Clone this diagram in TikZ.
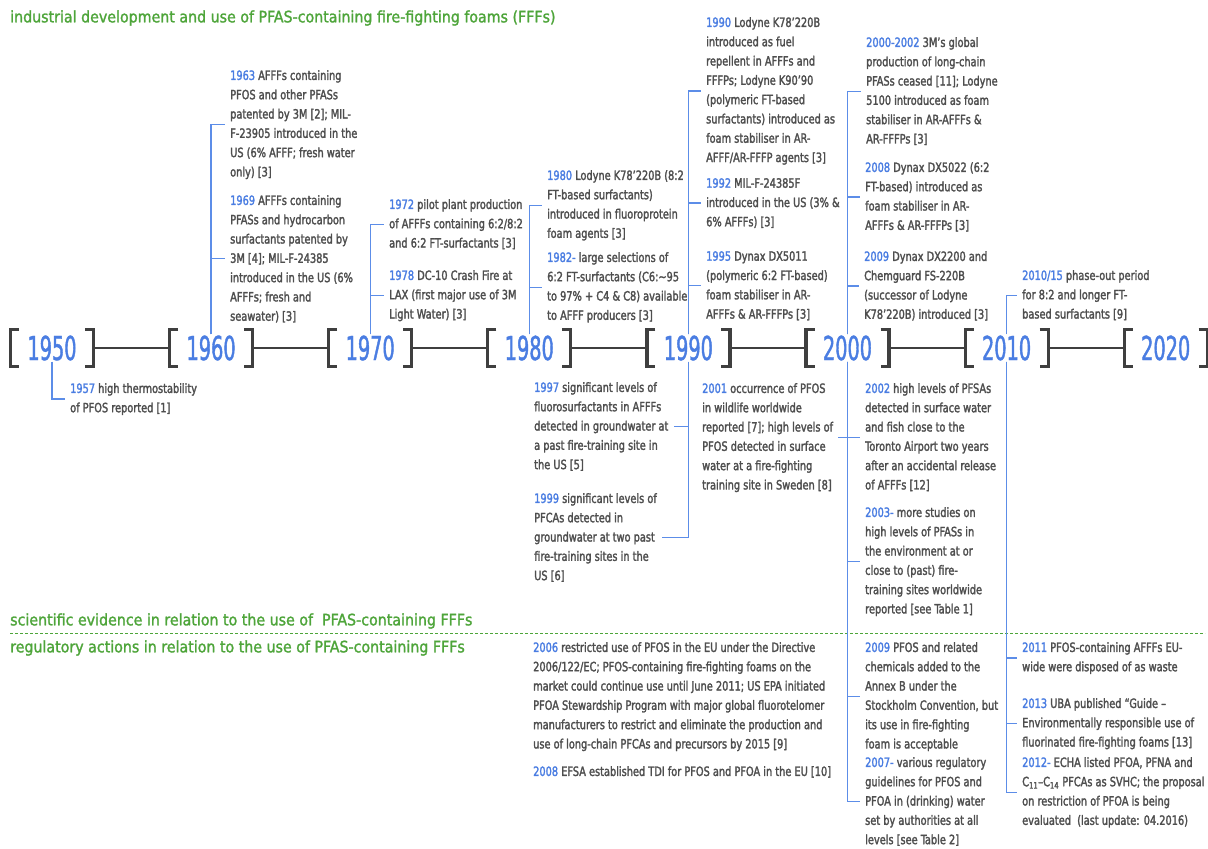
\documentclass[tikz,border=0pt]{standalone}
\usepackage{fontspec}
\setmainfont{DejaVu Sans Condensed}[FakeStretch=0.85,FakeBold=2]
\newfontfamily\headfont{DejaVu Sans Condensed}[FakeBold=1.5]
\newfontfamily\decadefont{DejaVu Sans Condensed}[FakeStretch=0.65,FakeBold=1.2]
\usetikzlibrary{calc}
\definecolor{yrblue}{HTML}{4A7DE2}
\definecolor{lnblue}{HTML}{5C8DE8}
\definecolor{txtgray}{HTML}{4E4E4E}
\definecolor{brkgray}{HTML}{3F3F3F}
\definecolor{secgreen}{HTML}{4EA53A}
\newcommand\evyear[1]{\textcolor{yrblue}{#1}}

\begin{document}
\begin{tikzpicture}[x=1pt,y=-1pt,
  evt/.style={anchor=north west,align=left,inner xsep=5pt,inner ysep=0pt,text=txtgray,font=\fontsize{12.8}{19.3}\selectfont},
  decade/.style={inner sep=1pt,text=yrblue,font=\decadefont\fontsize{33}{33}\selectfont},
  brk/.style={draw=brkgray,line width=3.2pt},
  axis/.style={draw=brkgray,line width=2.4pt},
  link/.style={draw=lnblue,line width=1.3pt},
  head/.style={anchor=west,inner sep=0pt,text=secgreen,font=\headfont\fontsize{15.8}{18}\selectfont}]
\def\gap{159.1}
\fill[white] (0,0) rectangle (1208,849);
\useasboundingbox (0,0) rectangle (1208,849);

% decades
\foreach \d [count=\i from 0] in {1950,1960,...,2020} {
  \node[decade] (d\d) at ({52+\gap*\i},348) {\d};
  \draw[brk] ($(d\d)+(-33,-18.5)$) -| ($(d\d)+(-41.5,18.5)$) -- ++(8.5,0);
  \draw[brk] ($(d\d)+(33,-18.5)$) -| ($(d\d)+(41.5,18.5)$) -- ++(-8.5,0);
  \coordinate (l\d) at ($(d\d)+(-41.5,0)$);
  \coordinate (r\d) at ($(d\d)+(41.5,0)$);
}
\foreach \a/\b in {1950/1960,1960/1970,1970/1980,1980/1990,1990/2000,2000/2010,2010/2020}
  \draw[axis] (r\a) -- (l\b);

% headings
\node[head] (tind) at (10,18) {industrial development and use of PFAS-containing fire-fighting foams (FFFs)};
\node[head] (tsci) at (10,621) {scientific evidence in relation to the use of \ PFAS-containing FFFs};
\draw[secgreen,dashed,line width=0.9pt,dash pattern=on 3pt off 2pt] (10,633) -- (1205,633);
\node[head] (treg) at (10,648) {regulatory actions in relation to the use of PFAS-containing FFFs};

% industrial development
\node[evt] (e1963) at (225,70) {\evyear{1963} AFFFs containing\\PFOS and other PFASs\\patented by 3M [2]; MIL-\\F-23905 introduced in the\\US (6\% AFFF; fresh water\\only) [3]};
\node[evt] (e1969) at (225,195) {\evyear{1969} AFFFs containing\\PFASs and hydrocarbon\\surfactants patented by\\3M [4]; MIL-F-24385\\introduced in the US (6\%\\AFFFs; fresh and\\seawater) [3]};
\node[evt] (e1972) at (384,199) {\evyear{1972} pilot plant production\\of AFFFs containing 6:2/8:2\\and 6:2 FT-surfactants [3]};
\node[evt] (e1978) at (384,270) {\evyear{1978} DC-10 Crash Fire at\\LAX (first major use of 3M\\Light Water) [3]};
\node[evt] (e1980) at (542,170) {\evyear{1980} Lodyne K78’220B (8:2\\FT-based surfactants)\\introduced in fluoroprotein\\foam agents [3]};
\node[evt] (e1982) at (542,252) {\evyear{1982-} large selections of\\6:2 FT-surfactants (C6:\textasciitilde95\\to 97\% + C4 \& C8) available\\to AFFF producers [3]};
\node[evt] (e1990) at (701,17) {\evyear{1990} Lodyne K78’220B\\introduced as fuel\\repellent in AFFFs and\\FFFPs; Lodyne K90’90\\(polymeric FT-based\\surfactants) introduced as\\foam stabiliser in AR-\\AFFF/AR-FFFP agents [3]};
\node[evt] (e1992) at (701,178) {\evyear{1992} MIL-F-24385F\\introduced in the US (3\% \&\\6\% AFFFs) [3]};
\node[evt] (e1995) at (701,251) {\evyear{1995} Dynax DX5011\\(polymeric 6:2 FT-based)\\foam stabiliser in AR-\\AFFFs \& AR-FFFPs [3]};
\node[evt] (e2000) at (861,37) {\evyear{2000-2002} 3M’s global\\production of long-chain\\PFASs ceased [11]; Lodyne\\5100 introduced as foam\\stabiliser in AR-AFFFs \&\\AR-FFFPs [3]};
\node[evt] (e2008) at (860,162) {\evyear{2008} Dynax DX5022 (6:2\\FT-based) introduced as\\foam stabiliser in AR-\\AFFFs \& AR-FFFPs [3]};
\node[evt] (e2009) at (859,251) {\evyear{2009} Dynax DX2200 and\\Chemguard FS-220B\\(successor of Lodyne\\K78’220B) introduced [3]};
\node[evt] (e2010) at (1017,270) {\evyear{2010/15} phase-out period\\for 8:2 and longer FT-\\based surfactants [9]};

% scientific evidence
\node[evt] (e1957) at (65,383) {\evyear{1957} high thermostability\\of PFOS reported [1]};
\node[evt] (e1997) at (529,382) {\evyear{1997} significant levels of\\fluorosurfactants in AFFFs\\detected in groundwater at\\a past fire-training site in\\the US [5]};
\node[evt] (e1999) at (529,493) {\evyear{1999} significant levels of\\PFCAs detected in\\groundwater at two past\\fire-training sites in the\\US [6]};
\node[evt] (e2001) at (697,383) {\evyear{2001} occurrence of PFOS\\in wildlife worldwide\\reported [7]; high levels of\\PFOS detected in surface\\water at a fire-fighting\\training site in Sweden [8]};
\node[evt] (e2002) at (860,383) {\evyear{2002} high levels of PFSAs\\detected in surface water\\and fish close to the\\Toronto Airport two years\\after an accidental release\\of AFFFs [12]};
\node[evt] (e2003) at (860,507) {\evyear{2003-} more studies on\\high levels of PFASs in\\the environment at or\\close to (past) fire-\\training sites worldwide\\reported [see Table 1]};

% regulatory actions
\node[evt] (e2006) at (528,642) {\evyear{2006} restricted use of PFOS in the EU under the Directive\\2006/122/EC; PFOS-containing fire-fighting foams on the\\market could continue use until June 2011; US EPA initiated\\PFOA Stewardship Program with major global fluorotelomer\\manufacturers to restrict and eliminate the production and\\use of long-chain PFCAs and precursors by 2015 [9]};
\node[evt] (e2008b) at (528,766) {\evyear{2008} EFSA established TDI for PFOS and PFOA in the EU [10]};
\node[evt] (e2009b) at (860,642) {\evyear{2009} PFOS and related\\chemicals added to the\\Annex B under the\\Stockholm Convention, but\\its use in fire-fighting\\foam is acceptable};
\node[evt] (e2007) at (860,757) {\evyear{2007-} various regulatory\\guidelines for PFOS and\\PFOA in (drinking) water\\set by authorities at all\\levels [see Table 2]};
\node[evt] (e2011) at (1017,642) {\evyear{2011} PFOS-containing AFFFs EU-\\wide were disposed of as waste};
\node[evt] (e2013) at (1017,698) {\evyear{2013} UBA published “Guide –\\Environmentally responsible use of\\fluorinated fire-fighting foams [13]};
\node[evt] (e2012) at (1017,757) {\evyear{2012-} ECHA listed PFOA, PFNA and\\C\textsubscript{11}–C\textsubscript{14} PFCAs as SVHC; the proposal\\on restriction of PFOA is being\\evaluated \ (last update: 04.2016)};

% links above the axis
\draw[link] (d1960.north) |- (e1963.west);
\draw[link] (d1960.north) |- (e1969.west);
\draw[link] (d1970.north) |- (e1972.west);
\draw[link] (d1970.north) |- (e1978.west);
\draw[link] (d1980.north) |- (e1980.west);
\draw[link] (d1980.north) |- (e1982.west);
\draw[link] (d1990.north) |- (e1990.west);
\draw[link] (d1990.north) |- (e1992.west);
\draw[link] (d1990.north) |- (e1995.west);
\draw[link] (d2000.north) |- (e2000.west);
\draw[link] (d2000.north) |- (e2008.west);
\draw[link] (d2000.north) |- (e2009.west);
\draw[link] (d2010.north) |- (e2010.west);

% links below the axis
\draw[link] (d1950.south) |- (e1957.west);
\draw[link] (d1990.south) |- (e1997.east);
\draw[link] (d1990.south) |- (e1999.east);
\draw[link] (d2000.south) |- (e2001.east);
\draw[link] (d2000.south) |- (e2002.west);
\draw[link] (d2000.south) |- (e2003.west);
\draw[link] (d2000.south) |- (e2009b.west);
\draw[link] (d2000.south) |- (e2007.west);
\draw[link] (d2010.south) |- (e2011.west);
\draw[link] (d2010.south) |- (e2013.west);
\draw[link] (d2010.south) |- (e2012.west);
\end{tikzpicture}
\end{document}
